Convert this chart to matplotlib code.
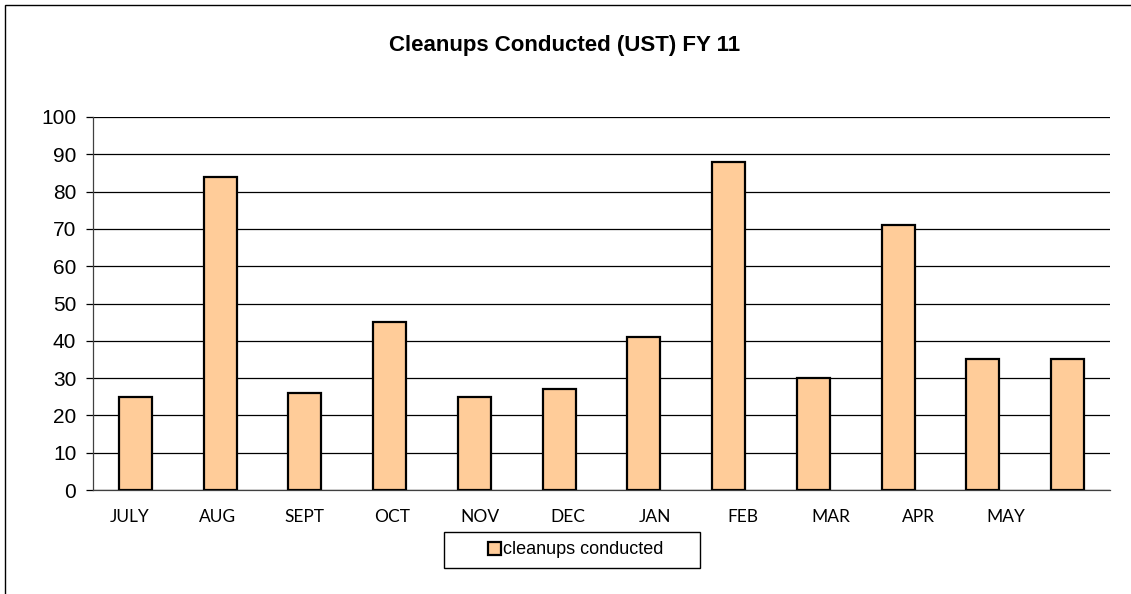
import numpy as np
import matplotlib.pyplot as plt
from matplotlib.patches import Rectangle

# dados do grafico
meses = ["JULY", "AUG", "SEPT", "OCT", "NOV", "DEC", "JAN", "FEB", "MAR", "APR", "MAY"]
cleanups = [25, 84, 26, 45, 25, 27, 41, 88, 30, 71, 35, 35]
yticks = [0, 10, 20, 30, 40, 50, 60, 70, 80, 90, 100]

fig = plt.figure(figsize=(11.31, 5.94), dpi=100)
ax = fig.add_axes([93 / 1131, 104 / 594, 1017 / 1131, 373 / 594])

x = np.arange(len(cleanups))
ax.bar(x, cleanups, width=0.39, color="#FFCC99", edgecolor="black",
       linewidth=1.6, zorder=3, label="cleanups conducted")

ax.set_xlim(-0.5, len(cleanups) - 0.5)
ax.set_ylim(0, 100)
ax.set_yticks(yticks)
ax.yaxis.grid(True, color="black", linewidth=0.9, zorder=0)

# rotulos do eixo x (espacados um pouco diferente das barras, como no original)
pos_rotulos = np.arange(len(meses)) * 1.034 - 0.07
ax.set_xticks(pos_rotulos)
ax.set_xticklabels(meses, fontfamily=["Liberation Sans Narrow", "Lato"], fontsize=12.5)
ax.tick_params(axis="x", length=0, pad=14)
ax.tick_params(axis="y", length=5, width=0.9, labelsize=15, pad=7)
for lbl in ax.get_yticklabels():
    lbl.set_fontfamily("Liberation Sans")

for lado in ["top", "right"]:
    ax.spines[lado].set_visible(False)
ax.spines["left"].set_linewidth(0.9)
ax.spines["bottom"].set_linewidth(0.9)
ax.spines["left"].set_color("#404040")
ax.spines["bottom"].set_color("#404040")

fig.text(565 / 1131, 1 - 46 / 594, "Cleanups Conducted (UST) FY 11",
         ha="center", va="center", fontsize=16, fontweight="bold",
         fontfamily="Liberation Sans")

# legenda sem moldura, caixa desenhada a parte
leg = ax.legend(loc="center", bbox_to_anchor=(576 / 1131, 1 - 550 / 594),
                bbox_transform=fig.transFigure, frameon=False,
                prop={"family": "Liberation Sans", "size": 13},
                handlelength=0.7, handleheight=0.7, handletextpad=0.15,
                borderpad=0.3, borderaxespad=0)
fig.patches.append(Rectangle((444 / 1131, 1 - 568 / 594), 256 / 1131, 36 / 594,
                             transform=fig.transFigure, fill=False,
                             edgecolor="black", linewidth=1.0))

# borda externa
fig.patches.append(Rectangle((5 / 1131, -0.01), 1.02, 1 - 5 / 594 + 0.01,
                             transform=fig.transFigure, fill=False,
                             edgecolor="black", linewidth=1.0))

plt.savefig("out.png", dpi=100)
